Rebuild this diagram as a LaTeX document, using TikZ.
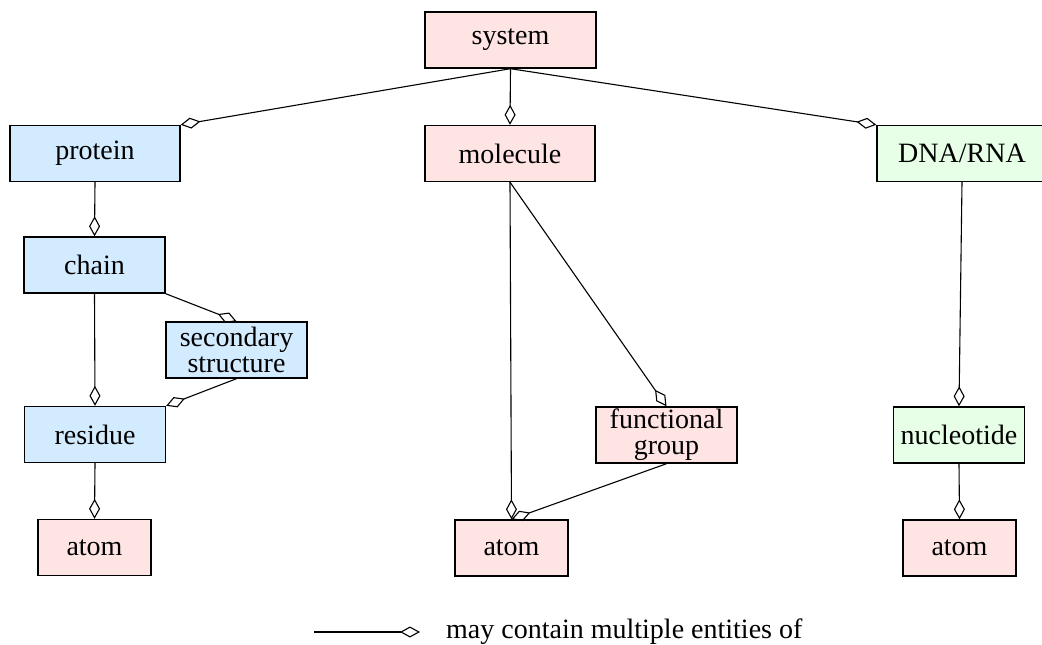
\documentclass[tikz,border=0pt]{standalone}
\usepackage{fontspec}
\setmainfont{Liberation Serif}
\usetikzlibrary{arrows.meta}
\definecolor{pinkfill}{HTML}{FFE4E4}
\definecolor{bluefill}{HTML}{D2EBFF}
\definecolor{greenfill}{HTML}{E6FFE6}
\tikzset{
  box/.style={draw=black, line width=1.4pt, inner sep=0pt, align=center,
    font=\fontsize{28}{26}\selectfont, minimum height=56pt},
  pinkbox/.style={box, fill=pinkfill},
  bluebox/.style={box, fill=bluefill},
  greenbox/.style={box, fill=greenfill},
  contains/.style={line width=1.1pt, -{Diamond[open, length=20pt, width=11pt, line width=1.1pt]}},
}
\begin{document}
\begin{tikzpicture}[x=1pt, y=-1pt]
\useasboundingbox (0,0) rectangle (1042,645);
\node[pinkbox, minimum width=171pt] (sys) at (510.5,40) {system};
\node[bluebox, minimum width=170pt] (prot) at (95,153.5) {protein};
\node[pinkbox, minimum width=170pt] (mol) at (510,153.5) {molecule};
\node[greenbox, minimum width=170pt] (dna) at (962,153.5) {DNA/RNA};
\node[bluebox, minimum width=141pt] (chain) at (94.5,265) {chain};
\node[bluebox, minimum width=141pt] (sec) at (236.5,350) {secondary\\structure};
\node[bluebox, minimum width=141pt] (res) at (95,434.5) {residue};
\node[pinkbox, minimum width=113pt] (atomA) at (94.5,547.5) {atom};
\node[pinkbox, minimum width=141pt] (fg) at (666.5,435) {functional\\group};
\node[pinkbox, minimum width=113pt] (atomB) at (511.5,548) {atom};
\node[greenbox, minimum width=131pt] (nuc) at (959,435) {nucleotide};
\node[pinkbox, minimum width=113pt] (atomC) at (959.5,548) {atom};

\draw[contains] (sys.south) -- (prot.north east);
\draw[contains] (sys.south) -- (mol.north);
\draw[contains] (sys.south) -- (dna.north west);
\draw[contains] (prot.south) -- (chain.north);
\draw[contains] (chain.south east) -- (sec.north);
\draw[contains] (chain.south) -- (res.north);
\draw[contains] (sec.south) -- (res.north east);
\draw[contains] (res.south) -- (atomA.north);
\draw[contains] (mol.south) -- (atomB.north);
\draw[contains] (mol.south) -- (fg.north);
\draw[contains] (fg.south) -- (atomB.north);
\draw[contains] (dna.south) -- (nuc.north);
\draw[contains] (nuc.south) -- (atomC.north);

\coordinate (legA) at (314,632);
\coordinate (legB) at (420,632);
\draw[contains] (legA) -- (legB);
\node[anchor=base west, inner sep=0pt, font=\fontsize{28}{26}\selectfont] (legtext) at (446,638) {may contain multiple entities of};
\end{tikzpicture}
\end{document}
